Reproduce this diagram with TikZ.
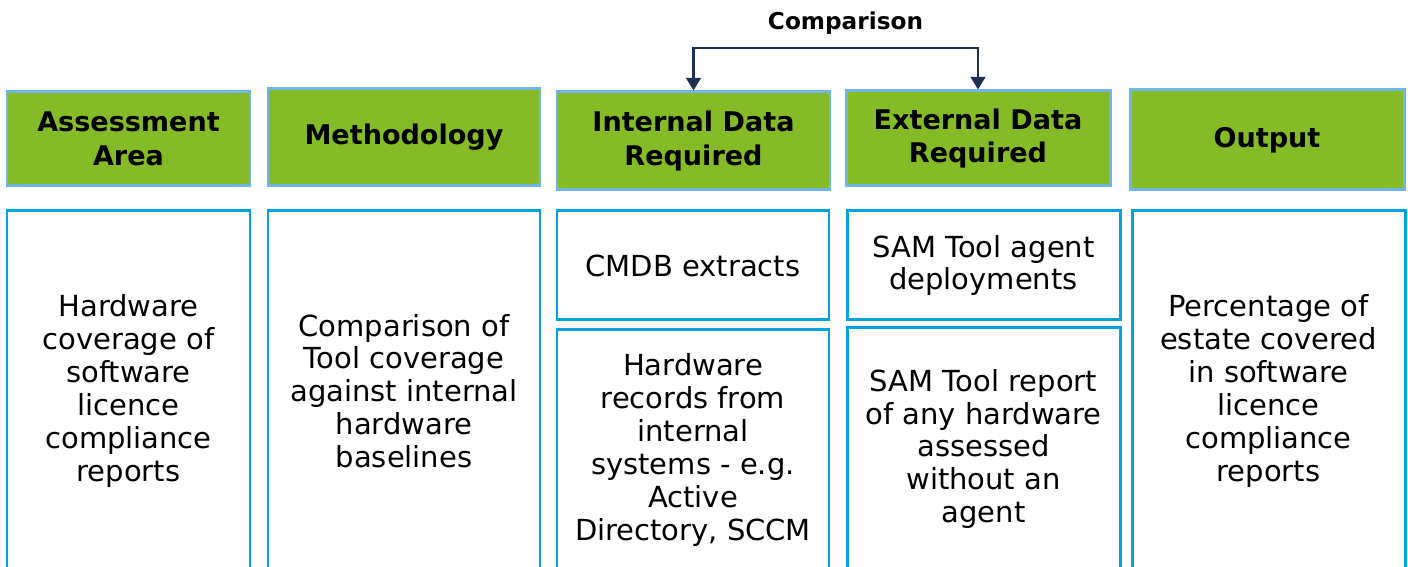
\documentclass[tikz,border=0pt]{standalone}
\usepackage{fontspec}
\setmainfont{DejaVu Sans}
\usetikzlibrary{arrows.meta}
\definecolor{hdgreen}{RGB}{132,187,38}
\definecolor{hdblue}{RGB}{110,182,230}
\definecolor{bxblue}{RGB}{0,163,224}
\definecolor{arrnavy}{RGB}{31,48,80}
\tikzset{
    HD/.style ={rectangle, draw=hdblue, fill=hdgreen, line width=0.85pt, align=center, inner sep=0pt,
                font=\fontsize{7.7}{9.6}\selectfont\bfseries},
    BX/.style ={rectangle, draw=bxblue, fill=white, line width=0.85pt, align=center, inner sep=0pt,
                font=\fontsize{8.25}{9.35}\selectfont},
    AR/.style ={draw=arrnavy, line width=0.6pt, -{Triangle[length=3.6pt,width=4.2pt]}}}

\begin{document}
\begin{tikzpicture}[x=1cm,y=1cm]
        \useasboundingbox (0,0) rectangle (14.08,-5.67);
        \clip (0,0) rectangle (14.08,-5.67);
        % header row
        \node[HD, minimum width=2.43cm, minimum height=0.94cm] (1) at(1.285,-1.39){Assessment\\Area};
        \node[HD, minimum width=2.72cm, minimum height=0.97cm] (2) at(4.04,-1.375){Methodology};
        \node[HD, minimum width=2.73cm, minimum height=0.98cm] (3) at(6.935,-1.41){Internal Data\\Required};
        \node[HD, minimum width=2.64cm, minimum height=0.95cm] (4) at(9.78,-1.385){External Data\\Required};
        \node[HD, minimum width=2.74cm, minimum height=1.00cm] (5) at(12.67,-1.40){Output};
        % content boxes
        \node[BX, minimum width=2.43cm, minimum height=3.60cm] (6) at(1.285,-3.91){Hardware\\coverage of\\software\\licence\\compliance\\reports};
        \node[BX, minimum width=2.72cm, minimum height=3.60cm] (7) at(4.04,-3.91){Comparison of\\Tool coverage\\against internal\\hardware\\baselines};
        \node[BX, minimum width=2.72cm, minimum height=1.09cm] (8) at(6.93,-2.655){CMDB extracts};
        \node[BX, minimum width=2.72cm, minimum height=2.40cm] (9) at(6.93,-4.50){Hardware\\records from\\internal\\systems - e.g.\\Active\\Directory, SCCM};
        \node[BX, minimum width=2.73cm, minimum height=1.09cm] (10) at(9.835,-2.655){SAM Tool agent\\deployments};
        \node[BX, minimum width=2.73cm, minimum height=2.42cm] (11) at(9.835,-4.49){SAM Tool report\\of any hardware\\assessed\\without an\\agent};
        \node[BX, minimum width=2.73cm, minimum height=3.60cm] (12) at(12.685,-3.91){Percentage of\\estate covered\\in software\\licence\\compliance\\reports};
        % comparison arrow
        \node[font=\fontsize{6.6}{8}\selectfont\bfseries] (13) at(8.455,-0.23){Comparison};
        \coordinate (14) at(8.355,-0.48);
        \draw[AR] (14) -| (3.north);
        \draw[AR] (14) -| (4.north);
    \end{tikzpicture}
\end{document}
